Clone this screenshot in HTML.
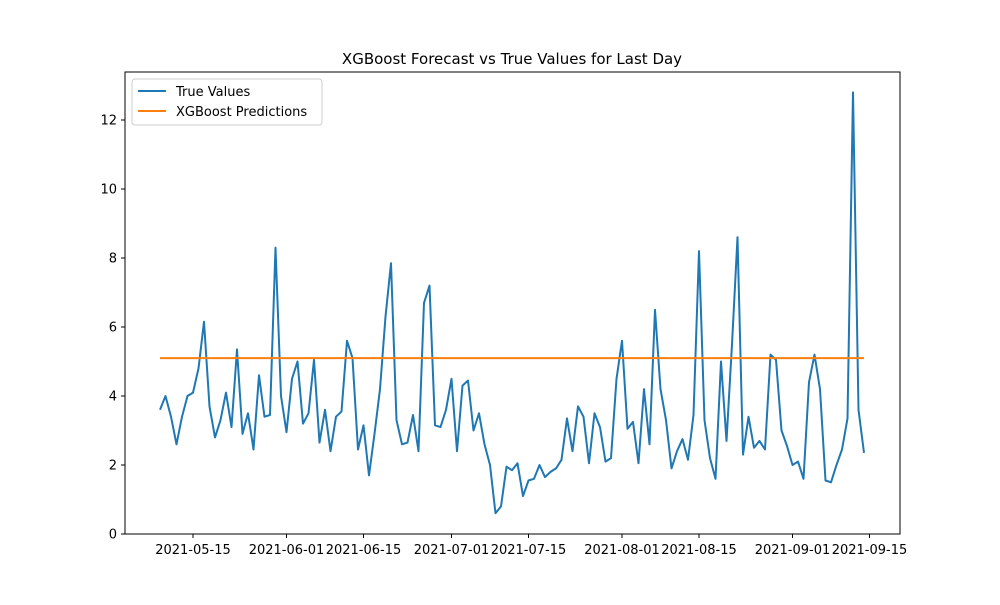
<!DOCTYPE html>
<html><head><meta charset="utf-8"><style>
body{margin:0;background:#fff;font-family:"Liberation Sans","DejaVu Sans",sans-serif}
svg text{font-family:"DejaVu Sans","Liberation Sans",sans-serif}
</style></head><body>
<svg id="chart" width="1000" height="600">
<rect width="1000" height="600" fill="#fff"/>
<text x="512" y="64" text-anchor="middle" font-size="15">XGBoost Forecast vs True Values for Last Day</text>
<g id="plot"></g>
<rect x="125" y="72" width="775" height="462" fill="none" stroke="#000" stroke-width="1"/>
<g>
<rect x="132" y="79" width="190" height="46" rx="3" fill="#fff" fill-opacity="0.8" stroke="#ccc"/>
<line x1="138" y1="91" x2="166" y2="91" stroke="#1f77b4" stroke-width="2"/>
<text x="176" y="96" font-size="13">True Values</text>
<line x1="138" y1="111" x2="166" y2="111" stroke="#ff7f0e" stroke-width="2"/>
<text x="176" y="116" font-size="13">XGBoost Predictions</text>
</g>
</svg>
<script>
const startDate = "2021-05-09";
const trueValues = [3.6,4.0,3.4,2.6,3.4,4.0,4.1,4.8,6.15,3.7,2.8,3.3,4.1,3.1,5.35,2.9,3.5,2.45,4.6,3.4,3.45,8.3,4.0,2.95,4.5,5.0,3.2,3.5,5.05,2.65,3.6,2.4,3.4,3.55,5.6,5.1,2.45,3.15,1.7,2.9,4.2,6.3,7.85,3.3,2.6,2.65,3.45,2.4,6.7,7.2,3.15,3.1,3.6,4.5,2.4,4.3,4.45,3.0,3.5,2.6,2.0,0.6,0.8,1.95,1.85,2.05,1.1,1.55,1.6,2.0,1.65,1.8,1.9,2.15,3.35,2.4,3.7,3.4,2.05,3.5,3.1,2.1,2.2,4.5,5.6,3.05,3.25,2.05,4.2,2.6,6.5,4.2,3.3,1.9,2.4,2.75,2.15,3.45,8.2,3.3,2.2,1.6,5.0,2.7,5.5,8.6,2.3,3.4,2.5,2.7,2.45,5.2,5.05,3.0,2.55,2.0,2.1,1.6,4.4,5.2,4.2,1.55,1.5,2.0,2.45,3.35,12.8,3.6,2.35];
const predValue = 5.1;
const xTickLabels = ["2021-05-15","2021-06-01","2021-06-15","2021-07-01","2021-07-15","2021-08-01","2021-08-15","2021-09-01","2021-09-15"];
const yTicks = [0,2,4,6,8,10,12];

const NS="http://www.w3.org/2000/svg";
const t0=Date.parse(startDate+"T00:00:00Z");
const dayPx=5.5, x0=160;
function xDay(d){return x0+d*dayPx;}
function xDate(s){return xDay((Date.parse(s+"T00:00:00Z")-t0)/86400000);}
function y(v){return 534-v*34.5;}
const g=document.getElementById('plot');
function mk(tag,attrs){const e=document.createElementNS(NS,tag);for(const k in attrs)e.setAttribute(k,attrs[k]);g.appendChild(e);return e;}
yTicks.forEach(v=>{
  const l=mk('line',{x1:121,x2:125,y1:y(v),y2:y(v),stroke:'#000'});
  
  
  const t=mk('text',{x:117,y:y(v)+4.5,'text-anchor':'end','font-size':13});
  t.textContent=v;
  
  
});
xTickLabels.forEach(s=>{
  const x=xDate(s);
  const l=mk('line',{x1:x,x2:x,y1:534,y2:538,stroke:'#000'});
  
  
  const t=mk('text',{x:x,y:554,'text-anchor':'middle','font-size':13});
  t.textContent=s;
  
  
});
const pts=trueValues.map((v,i)=>xDay(i).toFixed(1)+','+y(v).toFixed(1)).join(' ');
const tl=mk('polyline',{points:pts,fill:'none',stroke:'#1f77b4','stroke-width':2,'stroke-linejoin':'round'});


const pp=trueValues.map((v,i)=>xDay(i).toFixed(1)+','+y(predValue).toFixed(1)).join(' ');
const pl=mk('polyline',{points:pp,fill:'none',stroke:'#ff7f0e','stroke-width':2});


</script>
</body></html>
